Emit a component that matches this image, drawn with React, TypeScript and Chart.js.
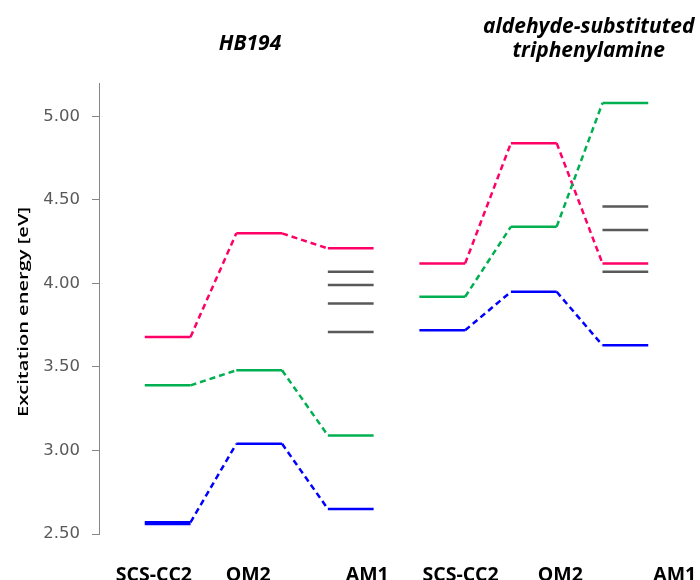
import React, { useEffect, useRef } from "react";
import { Chart, registerables } from "chart.js";

Chart.register(...registerables);

// Methods, repeated for each molecule
const methods = ["SCS-CC2", "OM2", "AM1", "SCS-CC2", "OM2", "AM1"];
const hbTitle = ["HB194"];
const tpaTitle = ["aldehyde-substituted", "triphenylamine"];

// HB194 excitation energies (eV), methods at x = 0, 1, 2
const hbBlue = [2.57, 3.04, 2.65];
const hbGreen = [3.39, 3.48, 3.09];
const hbRed = [3.68, 4.3, 4.21];
const hbBlueSecond = [2.56];
const hbAm1Extra = [4.07, 3.99, 3.88, 3.71];

// aldehyde-substituted triphenylamine (eV), methods at x = 3, 4, 5
const tpaBlue = [3.72, 3.95, 3.63];
const tpaGreen = [3.92, 4.34, 5.08];
const tpaRed = [4.12, 4.84, 4.12];
const tpaAm1Extra = [4.46, 4.32, 4.07];

const yTicks = [2.5, 3.0, 3.5, 4.0, 4.5, 5.0];

// Layout (data units on the x scale)
const labelX = [-0.15, 0.88, 2.18, 3.2, 4.29, 5.54];
const hbTitleX = 0.9;
const tpaTitleX = 4.6;
const HALF = 0.25;

const RED = "#FF0066";
const GREEN = "#00B050";
const BLUE = "#0000FF";
const GREY = "#595959";

// Each value becomes a short horizontal level; consecutive levels are joined
function levels(values: number[], start: number) {
  const pts: { x: number; y: number }[] = [];
  values.forEach((v, i) => {
    pts.push({ x: start + i - HALF, y: v });
    pts.push({ x: start + i + HALF, y: v });
  });
  return pts;
}

function series(values: number[], start: number, color: string) {
  return {
    data: levels(values, start),
    borderColor: color,
    backgroundColor: color,
    borderWidth: 2.5,
    pointRadius: 0,
    fill: false,
    tension: 0,
    segment: {
      borderDash: (ctx: any) => (ctx.p0DataIndex % 2 === 1 ? [6, 4] : undefined),
    },
  };
}

const textPlugin = {
  id: "diagramText",
  afterDraw(chart: any) {
    const { ctx, scales } = chart;
    const x = scales.x;
    ctx.save();
    ctx.fillStyle = "#000000";
    ctx.textAlign = "center";
    ctx.textBaseline = "alphabetic";

    ctx.font = "italic bold 21px 'Open Sans'";
    ctx.fillText(hbTitle[0], x.getPixelForValue(hbTitleX), 50);
    ctx.fillText(tpaTitle[0], x.getPixelForValue(tpaTitleX), 33);
    ctx.fillText(tpaTitle[1], x.getPixelForValue(tpaTitleX), 57);

    ctx.font = "bold 19.5px 'Open Sans'";
    methods.forEach((m, i) => {
      ctx.fillText(m, x.getPixelForValue(labelX[i]), 581);
    });

    // y-axis title, rotated
    const yTitle = "Excitation energy [eV]";
    ctx.font = "600 14px 'Open Sans'";
    const w = ctx.measureText(yTitle).width;
    ctx.translate(28, 312);
    ctx.rotate(-Math.PI / 2);
    ctx.scale(210 / w, 1);
    ctx.fillText(yTitle, 0, 0);
    ctx.restore();
  },
};

export default function App() {
  const ref = useRef<HTMLCanvasElement | null>(null);

  useEffect(() => {
    document.body.style.margin = "0";
    if (!ref.current) return;

    const datasets: any[] = [
      series(hbBlue, 0, BLUE),
      series(hbBlueSecond, 0, BLUE),
      series(hbGreen, 0, GREEN),
      series(hbRed, 0, RED),
      ...hbAm1Extra.map((v) => series([v], 2, GREY)),
      series(tpaBlue, 3, BLUE),
      series(tpaGreen, 3, GREEN),
      series(tpaRed, 3, RED),
      ...tpaAm1Extra.map((v) => series([v], 5, GREY)),
    ];

    const chart = new Chart(ref.current, {
      type: "line",
      data: { datasets },
      plugins: [textPlugin],
      options: {
        animation: false,
        responsive: false,
        layout: { padding: { top: 83, right: 6, left: 0, bottom: 0 } },
        plugins: {
          legend: { display: false },
          tooltip: { enabled: false },
        },
        scales: {
          x: {
            type: "linear",
            min: -0.75,
            max: 5.75,
            grid: { display: false },
            border: { display: false },
            ticks: { display: false },
            afterFit: (s: any) => {
              s.height = 46;
            },
          },
          y: {
            type: "linear",
            min: 2.5,
            max: 5.2,
            afterBuildTicks: (s: any) => {
              s.ticks = yTicks.map((v) => ({ value: v }));
            },
            afterFit: (s: any) => {
              s.width = 99;
            },
            grid: {
              display: true,
              drawOnChartArea: false,
              drawTicks: true,
              tickLength: 7,
              color: "#868686",
              lineWidth: 1,
            },
            border: { display: true, color: "#868686", width: 1 },
            ticks: {
              padding: 12,
              color: GREY,
              font: { family: "'DejaVu Sans'", size: 16.5 },
              callback: (v: any) => Number(v).toFixed(2),
            },
          },
        },
      },
    });
    return () => chart.destroy();
  }, []);

  return <canvas ref={ref} width={700} height={580} style={{ display: "block" }} />;
}
